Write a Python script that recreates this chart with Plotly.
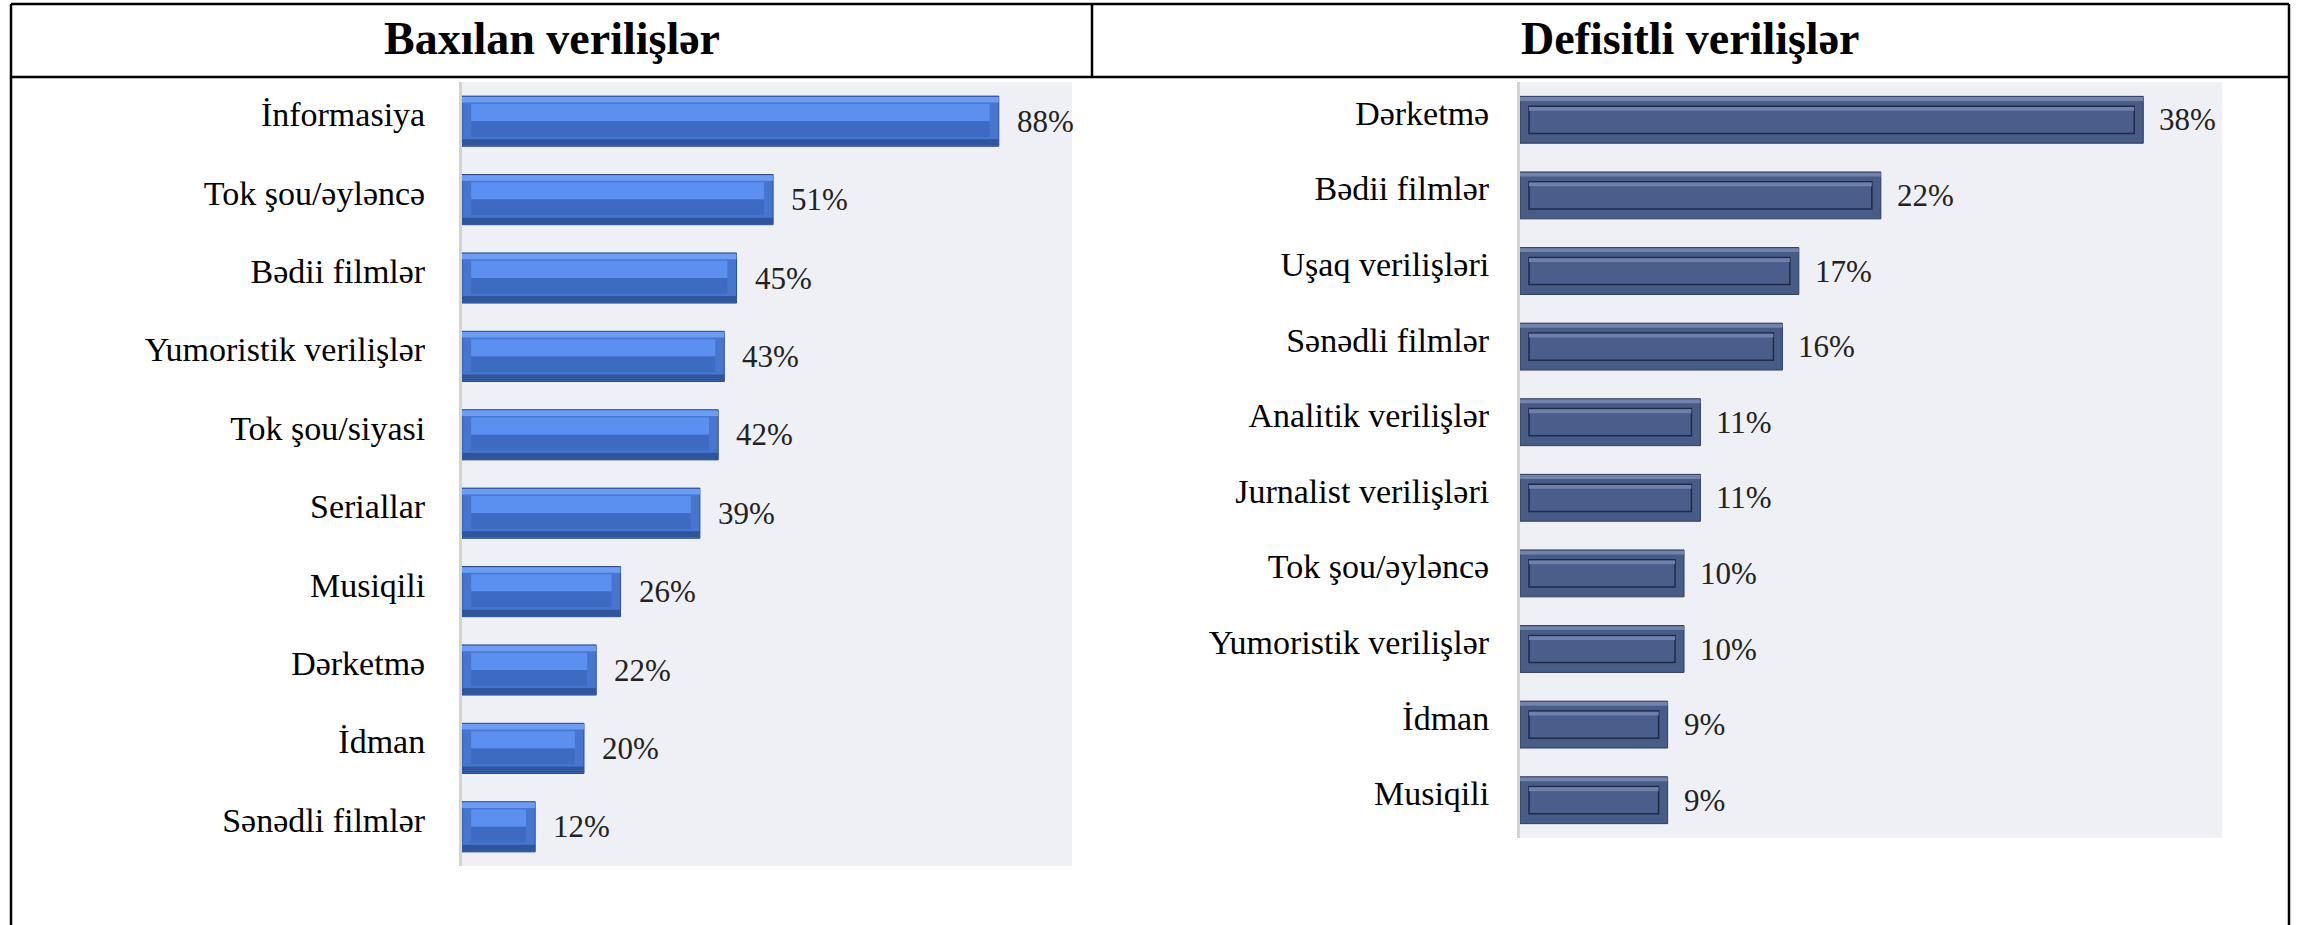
import plotly.graph_objects as go

# ---------------- data ----------------
left_title = "Baxılan verilişlər"
left_cats = ["İnformasiya", "Tok şou/əyləncə", "Bədii filmlər", "Yumoristik verilişlər",
             "Tok şou/siyasi", "Seriallar", "Musiqili", "Dərketmə", "İdman", "Sənədli filmlər"]
left_vals = [88, 51, 45, 43, 42, 39, 26, 22, 20, 12]

right_title = "Defisitli verilişlər"
right_cats = ["Dərketmə", "Bədii filmlər", "Uşaq verilişləri", "Sənədli filmlər",
              "Analitik verilişlər", "Jurnalist verilişləri", "Tok şou/əyləncə",
              "Yumoristik verilişlər", "İdman", "Musiqili"]
right_vals = [38, 22, 17, 16, 11, 11, 10, 10, 9, 9]

W, H = 2298, 925
FONT = "Liberation Serif"


def px_x(p):
    return p / W


def px_y(p):
    return 1 - p / H


fig = go.Figure()

# ---------------- left chart (blue bevelled bars) ----------------
L_IN = 1.5  # horizontal inset of bevel face, in data units
lx, ly = "x", "y"
fig.add_trace(go.Bar(y=left_cats, x=left_vals, orientation="h", width=0.64, offset=-0.32,
                     marker=dict(color="#4676CF", line=dict(color="#2B4E92", width=1)),
                     xaxis=lx, yaxis=ly, hoverinfo="skip", showlegend=False))
fig.add_trace(go.Bar(y=left_cats, x=left_vals, orientation="h", width=0.07, offset=-0.31,
                     marker=dict(color="#6C9DF3", line=dict(width=0)),
                     xaxis=lx, yaxis=ly, hoverinfo="skip", showlegend=False))
fig.add_trace(go.Bar(y=left_cats, x=[v - 2 * L_IN for v in left_vals], base=L_IN,
                     orientation="h", width=0.22, offset=-0.22,
                     marker=dict(color="#5B90F0", line=dict(width=0)),
                     xaxis=lx, yaxis=ly, hoverinfo="skip", showlegend=False))
fig.add_trace(go.Bar(y=left_cats, x=[v - 2 * L_IN for v in left_vals], base=L_IN,
                     orientation="h", width=0.2, offset=0.0,
                     marker=dict(color="#3E6BC2", line=dict(width=0)),
                     xaxis=lx, yaxis=ly, hoverinfo="skip", showlegend=False))
fig.add_trace(go.Bar(y=left_cats, x=left_vals, orientation="h", width=0.08, offset=0.23,
                     marker=dict(color="#2F569C", line=dict(width=0)),
                     xaxis=lx, yaxis=ly, hoverinfo="skip", showlegend=False))

# ---------------- right chart (slate bevelled bars) ----------------
R_IN = 0.55
rx, ry = "x2", "y2"
fig.add_trace(go.Bar(y=right_cats, x=right_vals, orientation="h", width=0.62, offset=-0.31,
                     marker=dict(color="#485C88", line=dict(color="#2F3D5F", width=1)),
                     xaxis=rx, yaxis=ry, hoverinfo="skip", showlegend=False))
fig.add_trace(go.Bar(y=right_cats, x=right_vals, orientation="h", width=0.05, offset=-0.30,
                     marker=dict(color="#7283AC", line=dict(width=0)),
                     xaxis=rx, yaxis=ry, hoverinfo="skip", showlegend=False))
fig.add_trace(go.Bar(y=right_cats, x=[v - 2 * R_IN for v in right_vals], base=R_IN,
                     orientation="h", width=0.36, offset=-0.18,
                     marker=dict(color="#4A5E8B", line=dict(color="#1F2A44", width=1.5)),
                     xaxis=rx, yaxis=ry, hoverinfo="skip", showlegend=False))
fig.add_trace(go.Bar(y=right_cats, x=[v - 2 * R_IN for v in right_vals], base=R_IN,
                     orientation="h", width=0.05, offset=-0.17,
                     marker=dict(color="#6F81AB", line=dict(width=0)),
                     xaxis=rx, yaxis=ry, hoverinfo="skip", showlegend=False))

# ---------------- value labels ----------------
annotations = []
for c, v in zip(left_cats, left_vals):
    annotations.append(dict(x=v, y=c, xref="x", yref="y", text=f"{v}%", showarrow=False,
                            xanchor="left", yanchor="middle", xshift=16, yshift=0,
                            font=dict(family=FONT, size=31, color="#222222")))
for c, v in zip(right_cats, right_vals):
    annotations.append(dict(x=v, y=c, xref="x2", yref="y2", text=f"{v}%", showarrow=False,
                            xanchor="left", yanchor="middle", xshift=14, yshift=0,
                            font=dict(family=FONT, size=31, color="#222222")))

# titles
annotations.append(dict(x=px_x(552), y=px_y(38), xref="paper", yref="paper", text=f"<b>{left_title}</b>",
                        showarrow=False, xanchor="center", yanchor="middle",
                        font=dict(family=FONT, size=46, color="black")))
annotations.append(dict(x=px_x(1690), y=px_y(38), xref="paper", yref="paper", text=f"<b>{right_title}</b>",
                        showarrow=False, xanchor="center", yanchor="middle",
                        font=dict(family=FONT, size=46, color="black")))

# ---------------- table borders ----------------
shapes = []
lw = 2.5
shapes.append(dict(type="line", xref="paper", yref="paper", x0=px_x(11), x1=px_x(2289), y0=px_y(4), y1=px_y(4),
                   line=dict(color="black", width=lw)))
shapes.append(dict(type="line", xref="paper", yref="paper", x0=px_x(11), x1=px_x(2289), y0=px_y(77), y1=px_y(77),
                   line=dict(color="black", width=lw)))
shapes.append(dict(type="line", xref="paper", yref="paper", x0=px_x(11), x1=px_x(11), y0=px_y(4), y1=0,
                   line=dict(color="black", width=lw)))
shapes.append(dict(type="line", xref="paper", yref="paper", x0=px_x(2289), x1=px_x(2289), y0=px_y(4), y1=0,
                   line=dict(color="black", width=lw)))
shapes.append(dict(type="line", xref="paper", yref="paper", x0=px_x(1092), x1=px_x(1092), y0=px_y(4), y1=px_y(77),
                   line=dict(color="black", width=lw)))

PLOT_BG = "#EEF0F6"
shapes.append(dict(type="rect", xref="paper", yref="paper", layer="below",
                   x0=px_x(462), x1=px_x(1072), y0=px_y(866), y1=px_y(82),
                   fillcolor=PLOT_BG, line=dict(width=0)))
shapes.append(dict(type="rect", xref="paper", yref="paper", layer="below",
                   x0=px_x(1520), x1=px_x(2222), y0=px_y(838), y1=px_y(82),
                   fillcolor=PLOT_BG, line=dict(width=0)))

axis_common_x = dict(showgrid=False, zeroline=False, showline=False, showticklabels=False, ticks="",
                     fixedrange=True)
axis_common_y = dict(type="category", showgrid=False, zeroline=False, showline=True,
                     linecolor="#D3D3D3", linewidth=3, ticks="", ticklabelshift=7,
                     tickfont=dict(family=FONT, size=34, color="black"), fixedrange=True)

fig.update_layout(
    width=W, height=H,
    margin=dict(l=0, r=0, t=0, b=0),
    paper_bgcolor="white",
    plot_bgcolor="rgba(0,0,0,0)",
    barmode="overlay",
    xaxis=dict(domain=[px_x(462), px_x(1072)], range=[0, 100], anchor="y", **axis_common_x),
    yaxis=dict(domain=[px_y(866), px_y(82)], range=[9.5, -0.5], anchor="x",
               categoryorder="array", categoryarray=left_cats, ticklabelstandoff=27,
               **axis_common_y),
    xaxis2=dict(domain=[px_x(1520), px_x(2222)], range=[0, 42.8], anchor="y2", **axis_common_x),
    yaxis2=dict(domain=[px_y(838), px_y(82)], range=[9.5, -0.5], anchor="x2",
                categoryorder="array", categoryarray=right_cats, ticklabelstandoff=21,
                **axis_common_y),
    annotations=annotations,
    shapes=shapes,
    font=dict(family=FONT),
)

fig.write_html("out.html", config={"displayModeBar": False},
               post_script="document.body.style.margin='0px';document.body.style.overflow='hidden';")
